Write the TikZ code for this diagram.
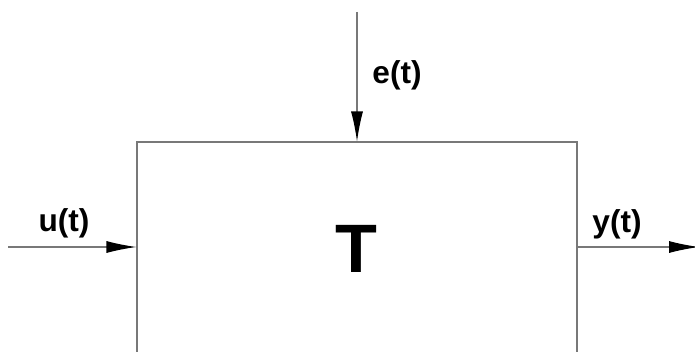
\documentclass[tikz,border=0pt]{standalone}
\usepackage{fontspec}
\setmainfont{Liberation Sans}
\usetikzlibrary{arrows.meta}
\definecolor{wiregray}{RGB}{120, 120, 120}
\definecolor{ink}{RGB}{0, 0, 0}

\begin{document}
\begin{tikzpicture}[x=0.02cm,y=-0.02cm,
  wire/.style={wiregray,line width=0.6pt},
  sig/.style={wire,-{Latex[length=0.6cm,width=0.24cm,color=ink]}},
  lbl/.style={font=\fontsize{18}{18}\selectfont\bfseries,inner sep=0pt}]
\clip (0,0) rectangle (695,351);
\useasboundingbox (0,0) rectangle (695,351);
\node[wire,draw,minimum width=0.02cm*440,minimum height=0.02cm*216,inner sep=0pt] (plant) at (357,250) {};
\node[font=\fontsize{39}{39}\selectfont\bfseries,inner sep=0pt] (Tlbl) at (356,249) {T};
\coordinate (uin) at (8,247);
\coordinate (ein) at (357,12);
\coordinate (yout) at (699,247);
\draw[sig] (uin) -- (uin -| plant.west);
\draw[sig] (ein) -- (plant.north);
\draw[sig] (uin -| plant.east) -- (yout);
\node[lbl] (ulbl) at (64,223) {u(t)};
\node[lbl] (elbl) at (397,75) {e(t)};
\node[lbl] (ylbl) at (617,224) {y(t)};
\end{tikzpicture}
\end{document}
